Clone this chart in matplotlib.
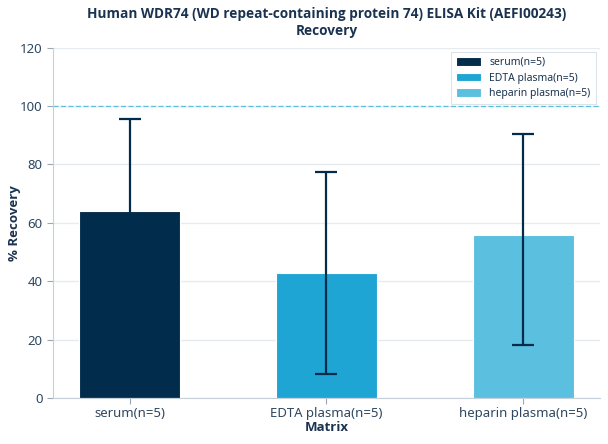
import numpy as np
import matplotlib.pyplot as plt

plt.rcParams['font.family'] = ['Noto Sans', 'DejaVu Sans']
bold_font = ['Open Sans', 'Noto Sans', 'DejaVu Sans']

categories = ["serum(n=5)", "EDTA plasma(n=5)", "heparin plasma(n=5)"]
recovery = [64.0, 42.8, 56.0]
err_low = [31.5, 34.5, 37.9]
err_high = [31.5, 34.5, 34.4]
colors = ["#022c4b", "#1fa5d3", "#5bbfe0"]

text_col = "#1b3350"
tick_col = "#2f4760"

fig = plt.figure(figsize=(6.08, 4.44), dpi=100)
ax = fig.add_axes([0.087, 0.103, 0.9, 0.79])

x = np.arange(len(categories))
ax.bar(x, recovery, width=0.51, color=colors, edgecolor="white",
       linewidth=0.8, label=categories, zorder=2)
ax.errorbar(x, recovery, yerr=[err_low, err_high], fmt="none",
            ecolor="#022c4b", elinewidth=1.6, capsize=8, capthick=1.6, zorder=3)

ax.axhline(100, color="#5bc0de", linestyle=(0, (4, 2)), linewidth=0.9, zorder=1)

ax.set_ylim(0, 120)
ax.set_xlim(-0.39, 2.39)
ax.set_yticks(np.arange(0, 121, 20))
ax.set_xticks(x)
ax.set_xticklabels(categories)
ax.yaxis.grid(True, color="#e6ebf0", linewidth=1, zorder=0)
ax.set_axisbelow(True)

for s in ["top", "right"]:
    ax.spines[s].set_visible(False)
for s in ["left", "bottom"]:
    ax.spines[s].set_color("#c5d0da")
ax.tick_params(axis="both", colors="#9aa6b2", labelcolor=tick_col, labelsize=9.5, length=4)
ax.tick_params(axis="x", pad=2)

ax.set_ylabel("% Recovery", fontsize=9.5, fontweight="bold", color=text_col, family=bold_font)
ax.yaxis.set_label_coords(-0.058, 0.5)
ax.set_xlabel("Matrix", fontsize=9.5, fontweight="bold", color=text_col, labelpad=1, family=bold_font)
ax.set_title("Human WDR74 (WD repeat-containing protein 74) ELISA Kit (AEFI00243)\nRecovery",
             fontsize=9.8, fontweight="bold", color=text_col, pad=9, family=bold_font,
             linespacing=1.25)

leg = ax.legend(loc="upper right", fontsize=7.5, frameon=True, fancybox=False,
                handlelength=2.4, handleheight=0.9, borderpad=0.5, labelspacing=0.45,
                handletextpad=0.8, borderaxespad=0.4)
leg.get_frame().set_edgecolor("#d5dde5")
leg.get_frame().set_linewidth(0.8)
for t in leg.get_texts():
    t.set_color(text_col)

fig.savefig("out.png", dpi=100)
